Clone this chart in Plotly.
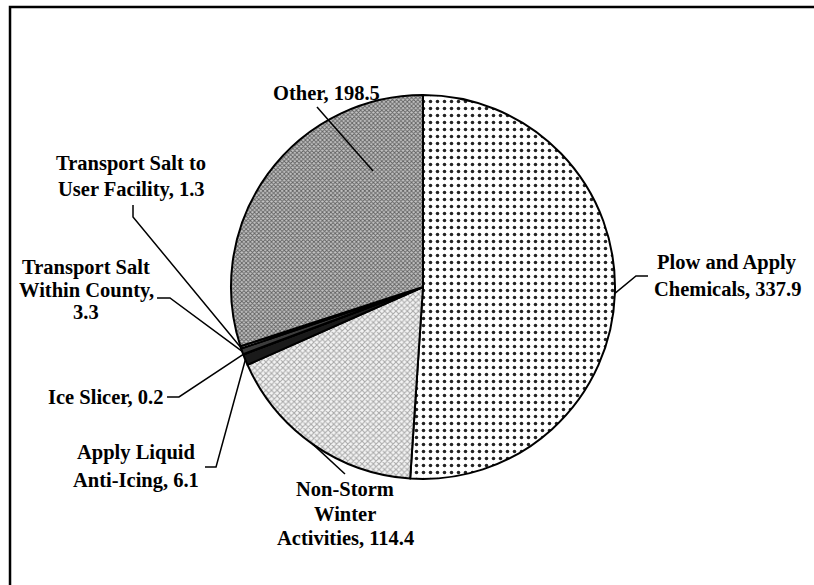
import math
import plotly.graph_objects as go

categories = ["Plow and Apply Chemicals", "Non-Storm Winter Activities", "Apply Liquid Anti-Icing",
              "Ice Slicer", "Transport Salt Within County", "Transport Salt to User Facility", "Other"]
values = [337.9, 114.4, 6.1, 0.2, 3.3, 1.3, 198.5]

W, H = 814, 585
CX, CY, R = 423, 287, 192  # pie placement in px (layout)

def px(x):
    return x / W

def py(y):
    return 1 - y / H

fills = ["white", "#e6e6e6", "#1a1a1a", "white", "#3c3c3c", "white", "#b4b4b4"]
patterns = [
    dict(shape=".", fgcolor="#222222", bgcolor="white", size=7, solidity=0.2),
    dict(shape="x", fgcolor="#a8a8a8", bgcolor="#f4f4f4", size=4, solidity=0.45),
    dict(shape=""), dict(shape=""), dict(shape=""), dict(shape=""),
    dict(shape="x", fgcolor="#606060", bgcolor="#c4c4c4", size=3, solidity=0.5),
]

fig = go.Figure(go.Pie(
    labels=categories, values=values, sort=False, direction="clockwise", rotation=0,
    textinfo="none", hoverinfo="label+value", showlegend=False,
    marker=dict(colors=fills, pattern=dict(
        shape=[p["shape"] for p in patterns],
        fgcolor=[p.get("fgcolor", "black") for p in patterns],
        bgcolor=[p.get("bgcolor", c) for p, c in zip(patterns, fills)],
        size=[p.get("size", 8) for p in patterns],
        solidity=[p.get("solidity", 0.3) for p in patterns]),
        line=dict(color="black", width=2)),
    domain=dict(x=[px(CX - R), px(CX + R)], y=[py(CY + R), py(CY - R)]),
))

# mid-angle edge point of each slice (px), from the data
total = sum(values)
edge = []
acc = 0.0
for v in values:
    mid = (acc + v / 2) / total * 2 * math.pi
    edge.append((CX + R * math.sin(mid), CY - R * math.cos(mid)))
    acc += v

font = dict(family="Liberation Serif, Times New Roman, serif", size=20.5, color="black")
annotations = []

def label(lines, x, y0, step=26.5):
    for i, t in enumerate(lines):
        annotations.append(dict(text="<b>%s</b>" % t, x=px(x), y=py(y0 + i * step),
                                xref="paper", yref="paper", showarrow=False,
                                xanchor="center", yanchor="middle", font=font))

label(["Plow and Apply", "Chemicals, 337.9"], 727, 262, 27)
label(["Non-Storm", "Winter", "Activities, 114.4"], 345, 489, 24.5)
label(["Apply Liquid", "Anti-Icing, 6.1"], 136, 452, 28)
label(["Ice Slicer, 0.2"], 105, 397)
label(["Transport Salt", "Within County,", "3.3"], 86, 268, 22)
label(["Transport Salt to", "User Facility, 1.3"], 131, 163, 27)
label(["Other, 198.5"], 326, 93)

shapes = []

def leader(points, width=1.5):
    d = "M " + " L ".join("%.4f,%.4f" % (px(x), py(y)) for x, y in points)
    shapes.append(dict(type="path", path=d, xref="paper", yref="paper",
                       line=dict(color="black", width=width)))

leader([(648, 276), (636, 276), edge[0]])
leader([(345, 474), edge[1]])
leader([(205, 467), (216, 467), edge[2]])
leader([(167, 397), (179, 397), edge[3]])
leader([(157, 298), (170, 298), edge[4]])
leader([(133, 205), (133, 217), edge[5]])
leader([(317, 107), (373, 171)])

# outer chart frame (left and top edges visible)
leader([(10, H + 10), (10, 7), (W + 10, 7)], width=2.5)

fig.update_layout(width=W, height=H, margin=dict(l=0, r=0, t=0, b=0),
                  paper_bgcolor="white", plot_bgcolor="white",
                  annotations=annotations, shapes=shapes)

fig.write_html("out.html", config={"displayModeBar": False},
               post_script="document.body.style.margin='0';")
